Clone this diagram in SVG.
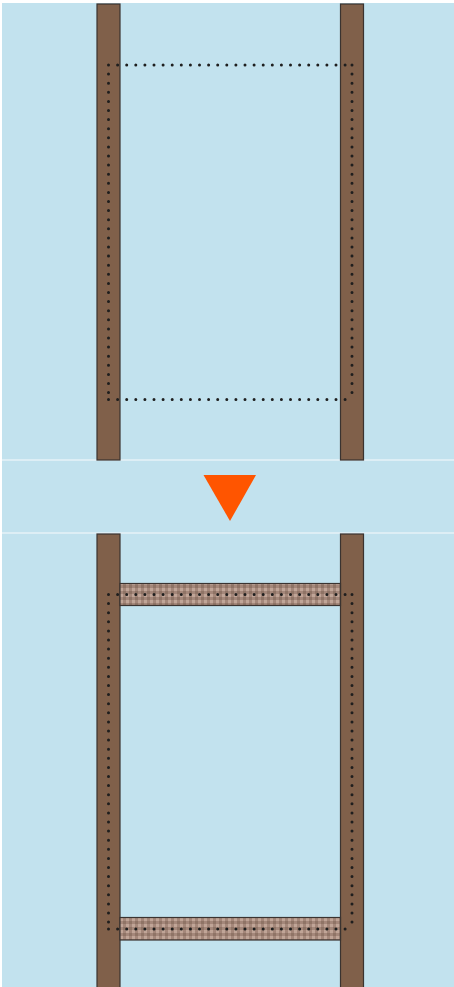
<svg xmlns="http://www.w3.org/2000/svg" width="454" height="987" viewBox="0 0 454 987">
  <defs>
    <style>
      .bg { fill: #c2e2ee; }
      .sep { stroke: #e6f2f7; stroke-width: 1.5; }
      .col { fill: #80604a; stroke: #3a3330; stroke-width: 1.2; }
      .beam { fill: url(#check); stroke: #3a3330; stroke-width: 1.2; }
      .dots { fill: none; stroke: #1e1e1e; stroke-width: 3; stroke-linecap: round; stroke-dasharray: 0 9.1; }
      .arrow { fill: #ff5500; }
    </style>
    <pattern id="check" x="0" y="0" width="6" height="6" patternUnits="userSpaceOnUse">
      <rect width="6" height="6" fill="#a4877a"/>
      <rect x="0" y="0" width="3" height="3" fill="#c0a597"/>
      <rect x="3" y="3" width="3" height="3" fill="#8f7466"/>
    </pattern>
  </defs>
  <rect x="0" y="0" width="454" height="987" fill="#ffffff"/>
  <rect class="bg" x="2" y="3" width="452" height="984"/>
  <line class="sep" x1="2" y1="460" x2="454" y2="460"/>
  <line class="sep" x1="2" y1="533" x2="454" y2="533"/>

  <g id="before">
    <g id="before-left-column"><rect class="col" x="97" y="4" width="23" height="456"/></g>
    <g id="before-right-column"><rect class="col" x="340.5" y="4" width="23" height="456"/></g>
  </g>

  <g id="arrow"><polygon class="arrow" points="203.5,475 256,475 230,521"/></g>

  <g id="after">
    <g id="after-left-column"><rect class="col" x="97" y="534" width="23" height="454"/></g>
    <g id="after-right-column"><rect class="col" x="340.5" y="534" width="23" height="454"/></g>
    <g id="top-beam"><rect class="beam" x="120" y="583.5" width="220.5" height="22"/></g>
    <g id="bottom-beam"><rect class="beam" x="120" y="917.5" width="220.5" height="22.5"/></g>
  </g>

  <g id="connectors">
    <path class="dots" d="M108.5,65 H352 M108.5,65 V399.5 M352,65 V399.5 M108.5,399.5 H352"/>
    <path class="dots" d="M108.5,594.5 H352 M108.5,594.5 V929 M352,594.5 V929 M108.5,929 H352"/>
  </g>
</svg>
